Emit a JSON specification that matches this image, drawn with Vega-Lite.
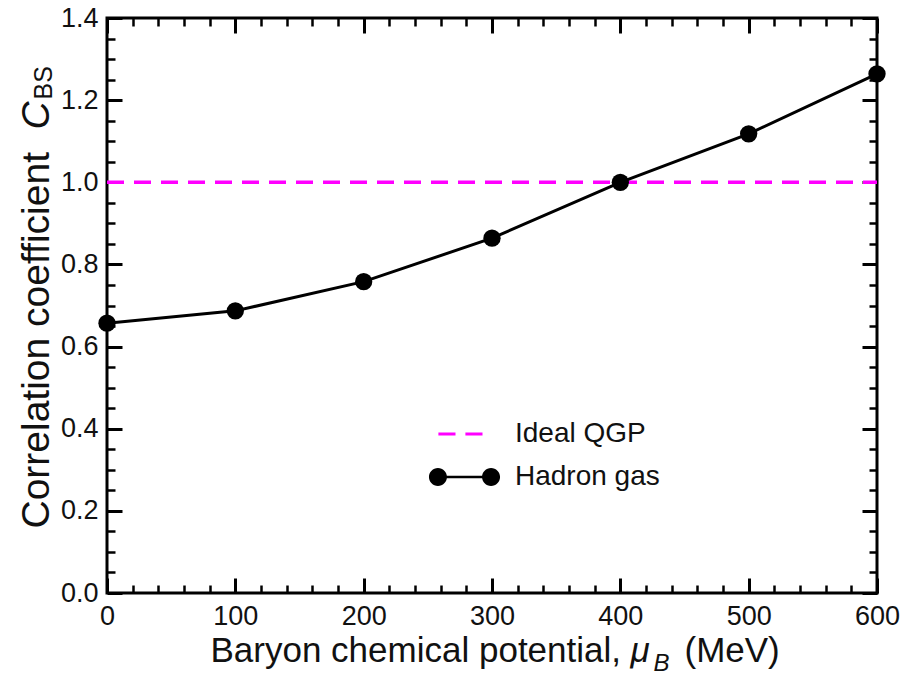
{
  "$schema": "https://vega.github.io/schema/vega-lite/v6.json",
  "width": 770,
  "height": 575,
  "autosize": {"type": "none"},
  "padding": {"left": 107, "top": 18, "right": 25, "bottom": 82},
  "background": "#ffffff",
  "config": {
    "font": "Liberation Sans",
    "view": {"stroke": "#000000", "strokeWidth": 3},
    "axis": {
      "domain": false,
      "grid": false,
      "labelFont": "Liberation Sans",
      "labelFontSize": 27,
      "labelColor": "#111111",
      "titleFont": "Liberation Sans",
      "titleFontWeight": "normal",
      "titleColor": "#111111",
      "tickColor": "#000000",
      "tickWidth": 3,
      "labelFlush": false,
      "labelOverlap": false
    }
  },
  "datasets": {
    "hadron": [
      {"mu": 0, "c": 0.657, "series": "Hadron gas"},
      {"mu": 100, "c": 0.687, "series": "Hadron gas"},
      {"mu": 200, "c": 0.758, "series": "Hadron gas"},
      {"mu": 300, "c": 0.864, "series": "Hadron gas"},
      {"mu": 400, "c": 1.0, "series": "Hadron gas"},
      {"mu": 500, "c": 1.118, "series": "Hadron gas"},
      {"mu": 600, "c": 1.264, "series": "Hadron gas"}
    ],
    "qgp": [
      {"mu": 0, "c": 1.0, "series": "Ideal QGP"},
      {"mu": 600, "c": 1.0, "series": "Ideal QGP"}
    ]
  },
  "layer": [
    {
      "data": {"name": "qgp"},
      "mark": {"type": "line", "strokeDash": [17, 10], "strokeWidth": 3.5},
      "encoding": {
        "x": {
          "field": "mu", "type": "quantitative",
          "scale": {"domain": [0, 600], "nice": false, "zero": false},
          "axis": {
            "orient": "bottom",
            "values": [0, 100, 200, 300, 400, 500, 600],
            "tickSize": -15,
            "labelPadding": 25,
            "title": "Baryon chemical potential,",
            "titleFontSize": 35,
            "titleX": 103,
            "titleY": 68,
            "titleAlign": "left",
            "titleBaseline": "alphabetic"
          }
        },
        "y": {
          "field": "c", "type": "quantitative",
          "scale": {"domain": [0, 1.4], "nice": false, "zero": false},
          "axis": {
            "orient": "left",
            "values": [0, 0.2, 0.4, 0.6, 0.8, 1.0, 1.2, 1.4],
            "tickSize": -15,
            "format": ".1f",
            "labelPadding": 24,
            "title": "Correlation coefficient",
            "titleFontSize": 39,
            "titleAngle": -90,
            "titleX": -59,
            "titleY": 510,
            "titleAlign": "left",
            "titleBaseline": "alphabetic"
          }
        },
        "color": {
          "field": "series", "type": "nominal",
          "scale": {"domain": ["Ideal QGP", "Hadron gas"], "range": ["#ff00ff", "#000000"]},
          "legend": {
            "orient": "none",
            "legendX": 343.5,
            "legendY": 402,
            "title": null,
            "padding": 0,
            "symbolSize": 324,
            "labelOffset": 36.5,
            "labelFont": "Liberation Sans",
            "labelFontSize": 28,
            "labelColor": "#111111",
            "rowPadding": 15,
            "labelLimit": 300,
            "encode": {
              "symbols": {
                "update": {
                  "shape": {"signal": "datum.value === 'Ideal QGP' ? 'M-2.9,-0.18V0.18H-1.0V-0.18Z M0.1,-0.18V0.18H2.0V-0.18Z' : 'M-3.95,0A1,1,0,1,0,-1.95,0A1,1,0,1,0,-3.95,0Z M1.95,0A1,1,0,1,0,3.95,0A1,1,0,1,0,1.95,0Z M-2.95,-0.14V0.14H2.95V-0.14Z'"},
                  "fill": {"signal": "datum.value === 'Ideal QGP' ? '#ff00ff' : '#000000'"},
                  "fillOpacity": {"value": 1},
                  "stroke": {"value": "transparent"},
                  "strokeWidth": {"value": 0},
                  "strokeDash": {"value": []}
                }
              }
            }
          }
        }
      }
    },
    {
      "data": {"name": "hadron"},
      "mark": {"type": "line", "strokeWidth": 3},
      "encoding": {
        "x": {
          "field": "mu", "type": "quantitative",
          "axis": {
            "orient": "top", "values": [0, 100, 200, 300, 400, 500, 600], "tickSize": -15, "labels": false,
            "title": "μ",
            "titleFontSize": 35,
            "titleFontStyle": "italic",
            "titleX": 523,
            "titleY": 643,
            "titleAlign": "left",
            "titleBaseline": "alphabetic"
          }
        },
        "y": {
          "field": "c", "type": "quantitative",
          "axis": {
            "orient": "right", "values": [0, 0.2, 0.4, 0.6, 0.8, 1.0, 1.2, 1.4], "tickSize": -15, "labels": false,
            "title": "C",
            "titleFontSize": 39,
            "titleFontStyle": "italic",
            "titleAngle": -90,
            "titleX": -829,
            "titleY": 111,
            "titleAlign": "left",
            "titleBaseline": "alphabetic"
          }
        },
        "color": {"field": "series", "type": "nominal", "legend": null}
      }
    },
    {
      "data": {"name": "hadron"},
      "mark": {"type": "point", "shape": "circle", "filled": true, "size": 300, "color": "#000000", "opacity": 1},
      "encoding": {
        "x": {
          "field": "mu", "type": "quantitative",
          "axis": {
            "orient": "bottom",
            "values": [20,40,60,80,120,140,160,180,220,240,260,280,320,340,360,380,420,440,460,480,520,540,560,580],
            "tickSize": -8, "tickWidth": 2.5, "labels": false,
            "title": "B",
            "titleFontSize": 24,
            "titleFontStyle": "italic",
            "titleX": 546,
            "titleY": 77,
            "titleAlign": "left",
            "titleBaseline": "alphabetic"
          }
        },
        "y": {
          "field": "c", "type": "quantitative",
          "axis": {
            "orient": "left",
            "values": [0.05,0.1,0.15,0.25,0.3,0.35,0.45,0.5,0.55,0.65,0.7,0.75,0.85,0.9,0.95,1.05,1.1,1.15,1.25,1.3,1.35],
            "tickSize": -8, "tickWidth": 2.5, "labels": false,
            "title": "BS",
            "titleFontSize": 25,
            "titleAngle": -90,
            "titleX": -56,
            "titleY": 81,
            "titleAlign": "left",
            "titleBaseline": "alphabetic"
          }
        }
      }
    },
    {
      "data": {"name": "hadron"},
      "mark": {"type": "point", "shape": "circle", "filled": true, "size": 300, "color": "#000000", "opacity": 0},
      "encoding": {
        "x": {
          "field": "mu", "type": "quantitative",
          "axis": {
            "orient": "top",
            "values": [20,40,60,80,120,140,160,180,220,240,260,280,320,340,360,380,420,440,460,480,520,540,560,580],
            "tickSize": -8, "tickWidth": 2.5, "labels": false,
            "title": "(MeV)",
            "titleFontSize": 35,
            "titleX": 577,
            "titleY": 643,
            "titleAlign": "left",
            "titleBaseline": "alphabetic"
          }
        },
        "y": {
          "field": "c", "type": "quantitative",
          "axis": {
            "orient": "right",
            "values": [0.05,0.1,0.15,0.25,0.3,0.35,0.45,0.5,0.55,0.65,0.7,0.75,0.85,0.9,0.95,1.05,1.1,1.15,1.25,1.3,1.35],
            "tickSize": -8, "tickWidth": 2.5, "labels": false, "title": null
          }
        }
      }
    }
  ],
  "resolve": {"axis": {"x": "independent", "y": "independent"}}
}
